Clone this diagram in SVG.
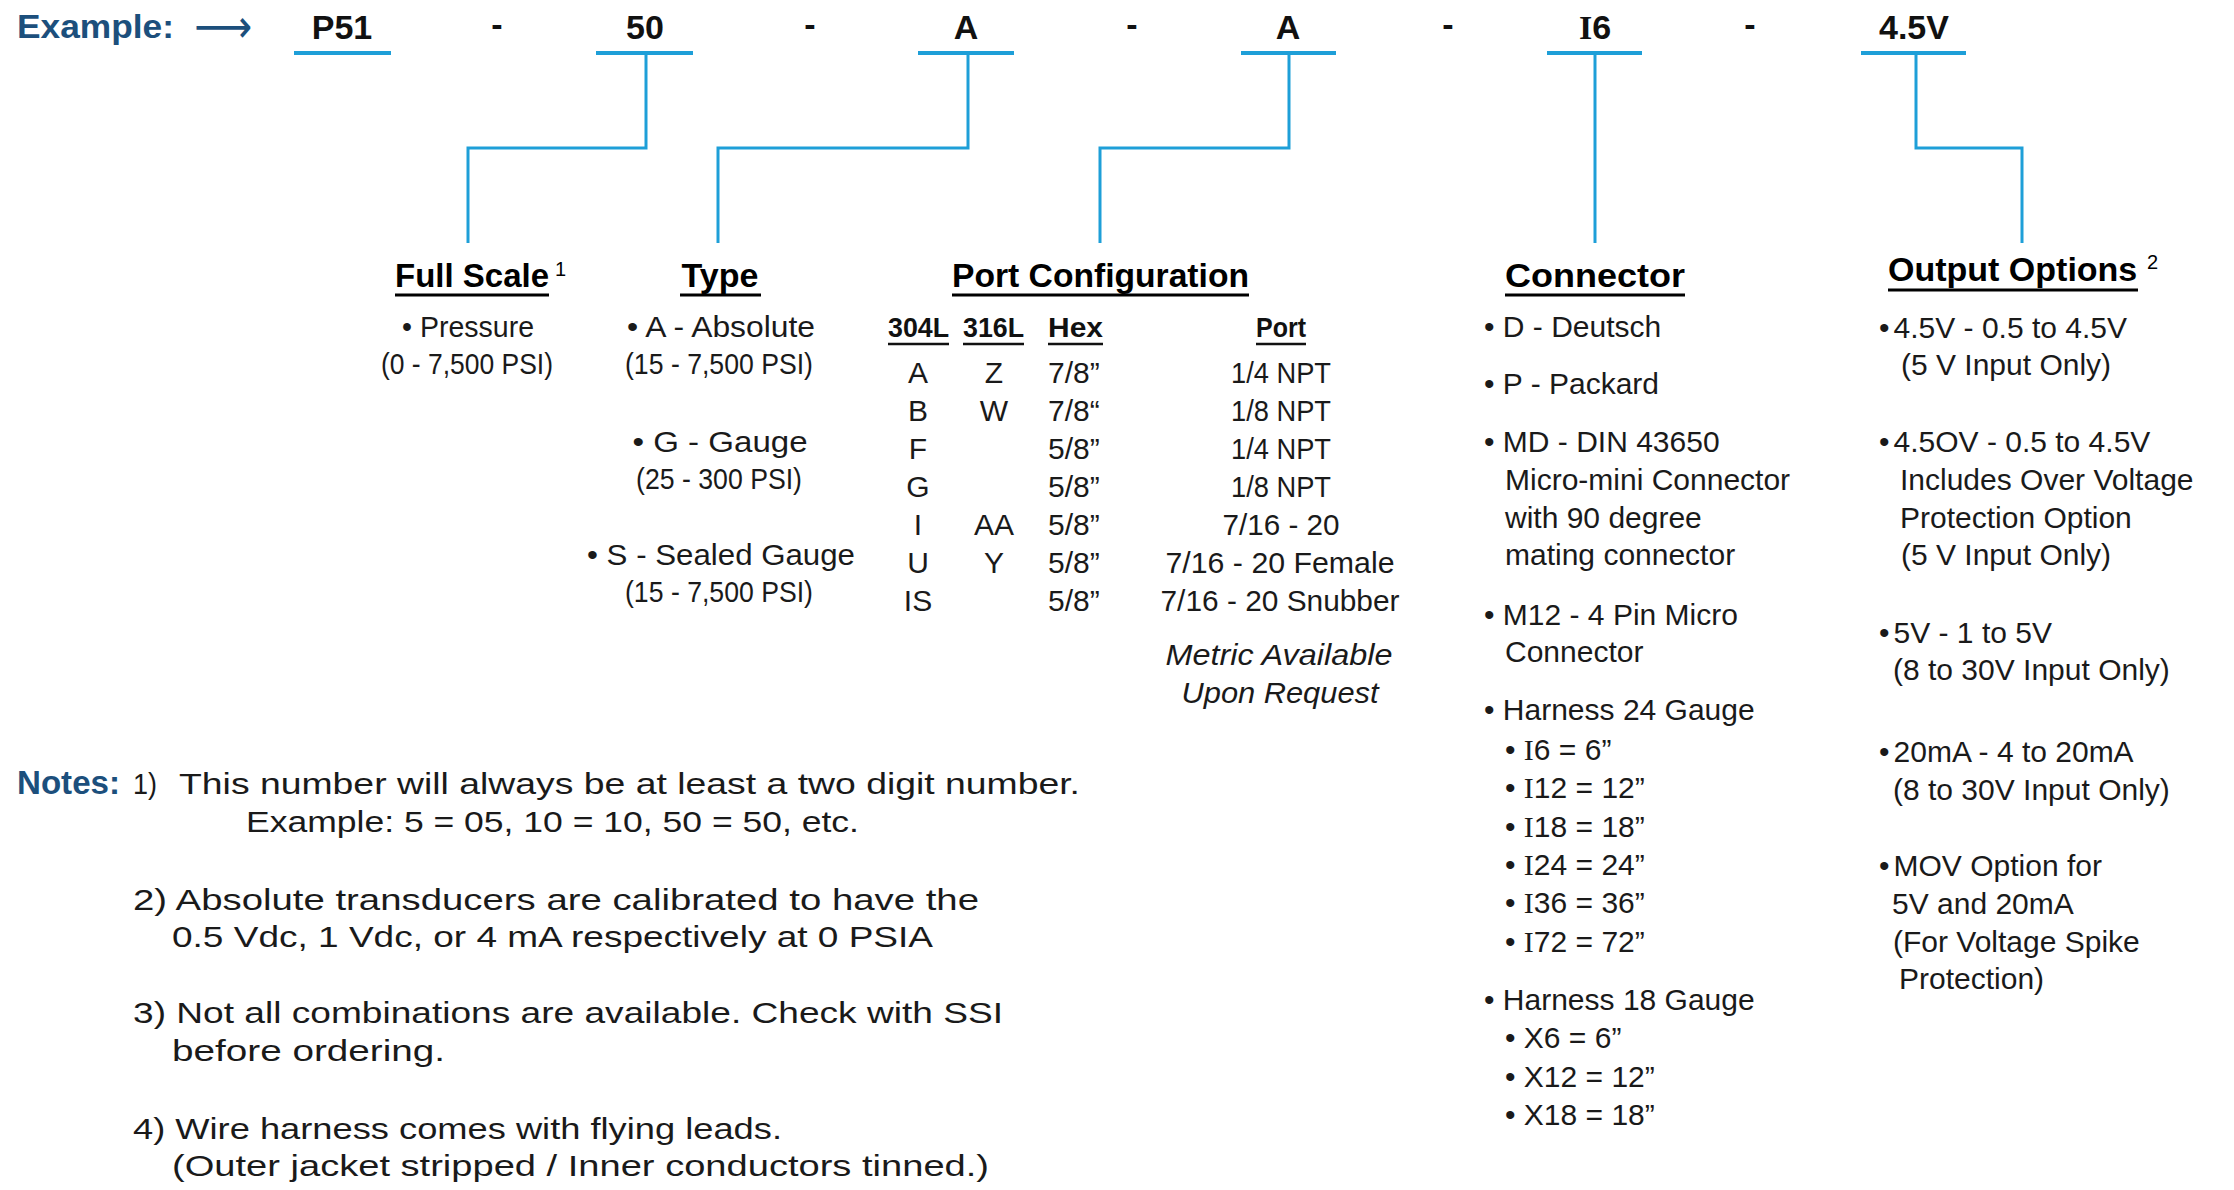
<svg xmlns="http://www.w3.org/2000/svg" width="2234" height="1190" viewBox="0 0 2234 1190">
<style>
.t{font-family:"Liberation Sans",Arial,sans-serif;font-size:30px;fill:#1a1a1a}
.h{font-family:"Liberation Sans",Arial,sans-serif;font-size:34px;font-weight:bold;fill:#000}
.th{font-family:"Liberation Sans",Arial,sans-serif;font-size:28px;font-weight:bold;fill:#111}
.code{font-family:"Liberation Sans",Arial,sans-serif;font-size:34px;font-weight:bold;fill:#111;text-anchor:middle}
.blue{font-family:"Liberation Sans",Arial,sans-serif;font-size:34px;font-weight:bold;fill:#1c4f7c}
.m{text-anchor:middle}
.it{font-style:italic}
.sup{font-family:"Liberation Sans",Arial,sans-serif;font-size:20px;fill:#000}
.serif{font-family:"Liberation Serif","Times New Roman",serif}
.ul{stroke:#000;stroke-width:3}
.ul2{stroke:#111;stroke-width:2.5}
.bar{stroke:#1e9fd8;stroke-width:4}
.conn{fill:none;stroke:#1e9fd8;stroke-width:3}
</style>
<rect width="2234" height="1190" fill="#fff"/>

<g id="example">
<text class="blue" x="17" y="38" textLength="157" lengthAdjust="spacingAndGlyphs">Example:</text>
<text x="194" y="42" style="font-family:'DejaVu Sans',sans-serif;font-size:46px;fill:#1c4f7c" textLength="58" lengthAdjust="spacingAndGlyphs">⟶</text>
</g>

<g id="seg-p51"><text class="code" x="342" y="39">P51</text><line class="bar" x1="294" y1="53" x2="391" y2="53"/></g>
<g id="seg-50"><text class="code" x="645" y="39">50</text><line class="bar" x1="596" y1="53" x2="693" y2="53"/></g>
<g id="seg-a1"><text class="code" x="966" y="39">A</text><line class="bar" x1="918" y1="53" x2="1014" y2="53"/></g>
<g id="seg-a2"><text class="code" x="1288" y="39">A</text><line class="bar" x1="1241" y1="53" x2="1336" y2="53"/></g>
<g id="seg-i6"><text class="code" x="1595" y="39"><tspan class="serif">I</tspan>6</text><line class="bar" x1="1547" y1="53" x2="1642" y2="53"/></g>
<g id="seg-45v"><text class="code" x="1914" y="39">4.5V</text><line class="bar" x1="1861" y1="53" x2="1966" y2="53"/></g>
<g id="dashes">
<text class="code" x="497" y="36">-</text>
<text class="code" x="810" y="36">-</text>
<text class="code" x="1132" y="36">-</text>
<text class="code" x="1448" y="36">-</text>
<text class="code" x="1750" y="36">-</text>
</g>

<g id="connectors">
<path class="conn" d="M646 53 V148 H468 V243"/>
<path class="conn" d="M968 53 V148 H718 V243"/>
<path class="conn" d="M1289 53 V148 H1100 V243"/>
<path class="conn" d="M1595 53 V243"/>
<path class="conn" d="M1916 53 V148 H2022 V243"/>
</g>

<g id="full-scale">
<text class="h" x="395" y="287" textLength="154" lengthAdjust="spacingAndGlyphs">Full Scale</text>
<text class="sup" x="555" y="276">1</text>
<line class="ul" x1="395" y1="295" x2="549" y2="295"/>
<text class="t m" x="468" y="337" textLength="132" lengthAdjust="spacingAndGlyphs">• Pressure</text>
<text class="t m" x="467" y="374" textLength="172" lengthAdjust="spacingAndGlyphs">(0 - 7,500 PSI)</text>
</g>

<g id="type">
<text class="h m" x="720" y="287">Type</text>
<line class="ul" x1="680" y1="295" x2="761" y2="295"/>
<text class="t m" x="721" y="337" textLength="188" lengthAdjust="spacingAndGlyphs">• A - Absolute</text>
<text class="t m" x="719" y="374" textLength="188" lengthAdjust="spacingAndGlyphs">(15 - 7,500 PSI)</text>
<text class="t m" x="720" y="452" textLength="175" lengthAdjust="spacingAndGlyphs">• G - Gauge</text>
<text class="t m" x="719" y="489" textLength="166" lengthAdjust="spacingAndGlyphs">(25 - 300 PSI)</text>
<text class="t m" x="721" y="565" textLength="268" lengthAdjust="spacingAndGlyphs">• S - Sealed Gauge</text>
<text class="t m" x="719" y="602" textLength="188" lengthAdjust="spacingAndGlyphs">(15 - 7,500 PSI)</text>
</g>

<g id="port-configuration">
<text class="h" x="952" y="287" textLength="297" lengthAdjust="spacingAndGlyphs">Port Configuration</text>
<line class="ul" x1="952" y1="295" x2="1249" y2="295"/>
<text class="th" x="888" y="337" textLength="61" lengthAdjust="spacingAndGlyphs">304L</text>
<text class="th" x="963" y="337" textLength="61" lengthAdjust="spacingAndGlyphs">316L</text>
<text class="th" x="1048" y="337" textLength="55" lengthAdjust="spacingAndGlyphs">Hex</text>
<text class="th" x="1256" y="337" textLength="50" lengthAdjust="spacingAndGlyphs">Port</text>
<line class="ul2" x1="888" y1="344" x2="949" y2="344"/>
<line class="ul2" x1="963" y1="344" x2="1024" y2="344"/>
<line class="ul2" x1="1048" y1="344" x2="1103" y2="344"/>
<line class="ul2" x1="1256" y1="344" x2="1306" y2="344"/>
<g class="t m">
<text x="918" y="383">A</text><text x="918" y="421">B</text><text x="918" y="459">F</text><text x="918" y="497">G</text><text x="918" y="535">I</text><text x="918" y="573">U</text><text x="918" y="611">IS</text>
<text x="994" y="383">Z</text><text x="994" y="421">W</text><text x="994" y="535">AA</text><text x="994" y="573">Y</text>
</g>
<g class="t">
<text x="1048" y="383">7/8”</text><text x="1048" y="421">7/8“</text><text x="1048" y="459">5/8”</text><text x="1048" y="497">5/8”</text><text x="1048" y="535">5/8”</text><text x="1048" y="573">5/8”</text><text x="1048" y="611">5/8”</text>
</g>
<g class="t m">
<text x="1281" y="383" textLength="100" lengthAdjust="spacingAndGlyphs">1/4 NPT</text>
<text x="1281" y="421" textLength="100" lengthAdjust="spacingAndGlyphs">1/8 NPT</text>
<text x="1281" y="459" textLength="100" lengthAdjust="spacingAndGlyphs">1/4 NPT</text>
<text x="1281" y="497" textLength="100" lengthAdjust="spacingAndGlyphs">1/8 NPT</text>
<text x="1281" y="535" textLength="117" lengthAdjust="spacingAndGlyphs">7/16 - 20</text>
<text x="1280" y="573" textLength="229" lengthAdjust="spacingAndGlyphs">7/16 - 20 Female</text>
<text x="1280" y="611" textLength="239" lengthAdjust="spacingAndGlyphs">7/16 - 20 Snubber</text>
<text class="it" x="1279" y="665" textLength="227" lengthAdjust="spacingAndGlyphs">Metric Available</text>
<text class="it" x="1280" y="703" textLength="197" lengthAdjust="spacingAndGlyphs">Upon Request</text>
</g>
</g>

<g id="connector">
<text class="h" x="1505" y="287" textLength="180" lengthAdjust="spacingAndGlyphs">Connector</text>
<line class="ul" x1="1505" y1="295" x2="1685" y2="295"/>
<g class="t">
<text x="1484" y="337">• D - Deutsch</text>
<text x="1484" y="394">• P - Packard</text>
<text x="1484" y="452">• MD - DIN 43650</text>
<text x="1505" y="490">Micro-mini Connector</text>
<text x="1505" y="528">with 90 degree</text>
<text x="1505" y="565">mating connector</text>
<text x="1484" y="625">• M12 - 4 Pin Micro</text>
<text x="1505" y="662">Connector</text>
<text x="1484" y="720">• Harness 24 Gauge</text>
<text x="1505" y="760">• <tspan class="serif">I</tspan>6 = 6”</text>
<text x="1505" y="798">• <tspan class="serif">I</tspan>12 = 12”</text>
<text x="1505" y="837">• <tspan class="serif">I</tspan>18 = 18”</text>
<text x="1505" y="875">• <tspan class="serif">I</tspan>24 = 24”</text>
<text x="1505" y="913">• <tspan class="serif">I</tspan>36 = 36”</text>
<text x="1505" y="952">• <tspan class="serif">I</tspan>72 = 72”</text>
<text x="1484" y="1010">• Harness 18 Gauge</text>
<text x="1505" y="1048">• X6 = 6”</text>
<text x="1505" y="1087">• X12 = 12”</text>
<text x="1505" y="1125">• X18 = 18”</text>
</g>
</g>

<g id="output-options">
<text class="h" x="1888" y="281">Output Options</text>
<text class="sup" x="2147" y="269">2</text>
<line class="ul" x1="1888" y1="290" x2="2138" y2="290"/>
<g class="t">
<text x="1879" y="338">•<tspan dx="4">4.5V - 0.5 to 4.5V</tspan></text>
<text x="1901" y="375">(5 V Input Only)</text>
<text x="1879" y="452">•<tspan dx="4">4.5OV - 0.5 to 4.5V</tspan></text>
<text x="1900" y="490">Includes Over Voltage</text>
<text x="1900" y="528">Protection Option</text>
<text x="1901" y="565">(5 V Input Only)</text>
<text x="1879" y="643">•<tspan dx="4">5V - 1 to 5V</tspan></text>
<text x="1893" y="680">(8 to 30V Input Only)</text>
<text x="1879" y="762">•<tspan dx="4">20mA - 4 to 20mA</tspan></text>
<text x="1893" y="800">(8 to 30V Input Only)</text>
<text x="1879" y="876">•<tspan dx="4">MOV Option for</tspan></text>
<text x="1892" y="914">5V and 20mA</text>
<text x="1893" y="952">(For Voltage Spike</text>
<text x="1899" y="989">Protection)</text>
</g>
</g>

<g id="notes">
<text class="blue" x="17" y="794" textLength="103" lengthAdjust="spacingAndGlyphs">Notes:</text>
<g class="t">
<text x="133" y="794" textLength="24" lengthAdjust="spacingAndGlyphs">1)</text>
<text x="179" y="794" textLength="901" lengthAdjust="spacingAndGlyphs">This number will always be at least a two digit number.</text>
<text x="246" y="832" textLength="613" lengthAdjust="spacingAndGlyphs">Example: 5 = 05, 10 = 10, 50 = 50, etc.</text>
<text x="133" y="910" textLength="846" lengthAdjust="spacingAndGlyphs">2) Absolute transducers are calibrated to have the</text>
<text x="172" y="947" textLength="761" lengthAdjust="spacingAndGlyphs">0.5 Vdc, 1 Vdc, or 4 mA respectively at 0 PSIA</text>
<text x="133" y="1023" textLength="870" lengthAdjust="spacingAndGlyphs">3) Not all combinations are available. Check with SSI</text>
<text x="172" y="1061" textLength="273" lengthAdjust="spacingAndGlyphs">before ordering.</text>
<text x="133" y="1139" textLength="649" lengthAdjust="spacingAndGlyphs">4) Wire harness comes with flying leads.</text>
<text x="172" y="1176" textLength="817" lengthAdjust="spacingAndGlyphs">(Outer jacket stripped / Inner conductors tinned.)</text>
</g>
</g>
</svg>
